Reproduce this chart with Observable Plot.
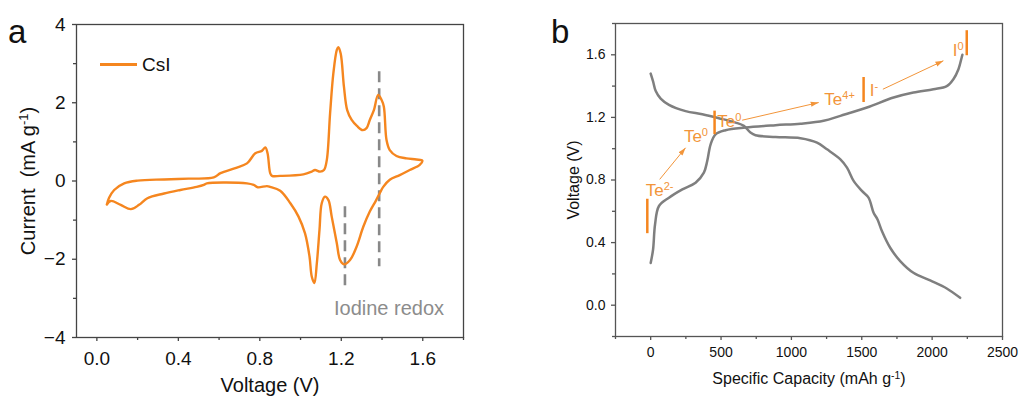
<!DOCTYPE html>
<html><head><meta charset="utf-8">
<script src="https://cdn.jsdelivr.net/npm/d3@7"></script>
<script src="https://cdn.jsdelivr.net/npm/@observablehq/plot@0.6"></script>
<style>
html,body{margin:0;padding:0;background:#fff;}
#wrap{position:relative;width:1019px;height:396px;overflow:hidden;font-family:"Liberation Sans",Arial,sans-serif;}
#wrap svg text{white-space:pre;}
.panel{position:absolute;top:0;}
.plabel{position:absolute;font-size:33px;line-height:33px;color:#111;}
#legLine{position:absolute;left:100px;top:63px;width:37px;height:2.5px;background:#f5861f;}
#legText{position:absolute;left:142px;top:55px;font-size:19px;line-height:19px;color:#111;}
</style></head><body>
<div id="wrap">
  <div id="pa" class="panel" style="left:0"></div>
  <div id="pb" class="panel" style="left:520px"></div>
  <div class="plabel" style="left:8px;top:15px">a</div>
  <div class="plabel" style="left:551px;top:15px">b</div>
  <div id="legLine"></div>
  <div id="legText">CsI</div>
</div>
<script>
// ---------- Panel a: CV curve (CsI) ----------
const cvVoltage = [0.049,0.06,0.085,0.134,0.2,0.33,0.45,0.574,0.607,0.68,0.737,0.778,0.81,0.827,0.838,0.851,0.86,0.90,1.014,1.055,1.071,1.096,1.115,1.129,1.145,1.161,1.178,1.185,1.197,1.213,1.229,1.251,1.278,1.305,1.324,1.34,1.36,1.381,1.398,1.409,1.422,1.438,1.471,1.52,1.569,1.598,
  1.585,1.536,1.487,1.438,1.406,1.39,1.37,1.34,1.308,1.275,1.243,1.213,1.194,1.178,1.153,1.137,1.12,1.104,1.093,1.08,1.068,1.055,1.044,1.022,0.99,0.95,0.90,0.851,0.835,0.79,0.77,0.737,0.54,0.525,0.49,0.41,0.33,0.248,0.207,0.167,0.117,0.068,0.049];
const cvCurrent = [-0.6,-0.43,-0.23,-0.06,0.01,0.04,0.06,0.09,0.2,0.33,0.45,0.71,0.77,0.86,0.71,0.2,0.13,0.13,0.17,0.24,0.28,0.24,0.28,0.54,1.73,2.75,3.35,3.42,3.26,2.41,1.81,1.56,1.40,1.30,1.35,1.56,1.81,2.2,2.07,1.9,1.05,0.79,0.64,0.58,0.55,0.52,
  0.41,0.28,0.15,0.03,-0.15,-0.3,-0.5,-0.78,-1.17,-1.68,-2.02,-2.13,-2.02,-1.59,-0.91,-0.49,-0.4,-0.57,-1.25,-2.1,-2.61,-2.44,-1.93,-1.34,-0.91,-0.57,-0.25,-0.15,-0.13,-0.16,-0.1,-0.06,-0.06,-0.1,-0.15,-0.23,-0.32,-0.44,-0.61,-0.72,-0.61,-0.51,-0.6];
const cvTicksX = [0, 0.4, 0.8, 1.2, 1.6];
const cvMinorX = [0.2, 0.6, 1.0, 1.4, 1.8];
const cvTicksY = [-4, -2, 0, 2, 4];
const cvMinorY = [-3, -1, 1, 3];
const redoxV = [1.386, 1.218];
const redoxTop = [2.79, -0.66];
const redoxBottom = [-2.19, -2.74];
const redoxLabel = ["Iodine redox"];
const redoxLabelV = [1.164];
const redoxLabelI = [-3.42];

// ---------- Panel b: charge / discharge ----------
const dischargeCap = [0,17,35,71,130,248,367,484,603,662,709,745,887,1064,1182,1253,1348,1395,1442,1501,1548,1584,1612,1643,1702,1773,1867,1986,2104,2199];
const dischargeV = [1.48,1.43,1.37,1.32,1.28,1.24,1.22,1.195,1.167,1.146,1.103,1.086,1.075,1.067,1.039,0.996,0.932,0.879,0.794,0.73,0.687,0.591,0.548,0.474,0.367,0.282,0.207,0.158,0.107,0.047];
const chargeCap = [0,17,31,59,130,225,319,378,402,426,461,532,674,887,1064,1229,1348,1537,1726,1867,2009,2104,2151,2187,2210,2215];
const chargeV = [0.27,0.356,0.516,0.634,0.687,0.74,0.783,0.847,0.922,1.028,1.092,1.118,1.135,1.15,1.16,1.178,1.21,1.263,1.327,1.359,1.38,1.40,1.444,1.508,1.583,1.6];
const capTicksX = [0, 500, 1000, 1500, 2000, 2500];
const capMinorX = [-250, 250, 750, 1250, 1750, 2250];
const capTicksY = [0, 0.4, 0.8, 1.2, 1.6];
const capMinorY = [-0.2, 0.2, 0.6, 1.0, 1.4, 1.8];
const ionLabels = ["Te^{2-}", "Te^{0}", "Te^{0}", "Te^{4+}", "I^{-}", "I^{0}"];
const ionLabelCap = [-35, 236, 473, 1234, 1556, 2147];
const ionLabelV = [0.698, 1.043, 1.139, 1.28, 1.338, 1.594];
const barCap = [-24, 454, 1513, 2246];
const barV1 = [0.457, 1.09, 1.295, 1.594];
const barV2 = [0.677, 1.24, 1.455, 1.754];
const arrowCap1 = [64, 650, 1650];
const arrowV1 = [0.804, 1.182, 1.38];
const arrowCap2 = [248, 1194, 2080];
const arrowV2 = [1.006, 1.295, 1.562];

// ---------- helpers ----------
const orange = "#f5861f";
const annOrange = "#f2953a";
const cvData = cvVoltage.map((v, k) => ({v, i: cvCurrent[k]}));
const disData = dischargeCap.map((c, k) => ({c, v: dischargeV[k]}));
const chaData = chargeCap.map((c, k) => ({c, v: chargeV[k]}));
const redoxData = redoxV.map((v, k) => ({v, y1: redoxTop[k], y2: redoxBottom[k]}));
const ionData = ionLabels.map((t, k) => ({t, c: ionLabelCap[k], v: ionLabelV[k]}));
const barData = barCap.map((c, k) => ({c, y1: barV1[k], y2: barV2[k]}));
const arrowData = arrowCap1.map((c, k) => ({x1: c, y1: arrowV1[k], x2: arrowCap2[k], y2: arrowV2[k]}));

function headMarker(color) {
  const m = d3.create("svg:marker")
    .attr("viewBox", "-8 -3 8 6")
    .attr("markerWidth", 8).attr("markerHeight", 6)
    .attr("markerUnits", "userSpaceOnUse")
    .attr("orient", "auto")
    .attr("fill", color).attr("stroke", "none");
  m.append("path").attr("d", "M-8,-2.6L0,0L-8,2.6Z");
  return m.node();
}

function supify(root) {
  root.querySelectorAll("text").forEach(t => {
    if (t.children.length) return;
    const s = t.textContent;
    if (!s.includes("^{")) return;
    t.textContent = "";
    const re = /\^\{([^}]*)\}/g; let last = 0, m;
    while ((m = re.exec(s))) {
      if (m.index > last) t.appendChild(document.createTextNode(s.slice(last, m.index)));
      const sp = document.createElementNS("http://www.w3.org/2000/svg", "tspan");
      sp.setAttribute("baseline-shift", "super");
      sp.setAttribute("font-size", "65%");
      sp.textContent = m[1];
      t.appendChild(sp);
      last = re.lastIndex;
    }
    if (last < s.length) t.appendChild(document.createTextNode(s.slice(last)));
  });
}

const font = '"Liberation Sans", Arial, sans-serif';

const plotA = Plot.plot({
  width: 500, height: 396,
  marginLeft: 76, marginRight: 37, marginTop: 24, marginBottom: 59,
  x: {domain: [-0.1, 1.8]},
  y: {domain: [-4, 4]},
  style: {fontFamily: font, fontSize: "18px", color: "#111", background: "transparent", overflow: "visible"},
  marks: [
    Plot.axisX({ticks: cvTicksX, tickFormat: d3.format(".1f"), tickSize: 4, tickPadding: 10, label: null, stroke: "#444", strokeWidth: 1.3, fontSize: 19}),
    Plot.axisX({ticks: cvMinorX, tickFormat: () => "", tickSize: 3, label: null, stroke: "#444", strokeWidth: 1.3}),
    Plot.axisY({ticks: cvTicksY, tickSize: 4, tickPadding: 7, label: null, stroke: "#444", strokeWidth: 1.3, fontSize: 19}),
    Plot.axisY({ticks: cvMinorY, tickFormat: () => "", tickSize: 3, label: null, stroke: "#444", strokeWidth: 1.3}),
    Plot.frame({stroke: "#444", strokeWidth: 1.3}),
    Plot.ruleX(redoxData, {x: "v", y1: "y1", y2: "y2", stroke: "#888", strokeWidth: 2.6, strokeDasharray: "11,6"}),
    Plot.line(cvData, {x: "v", y: "i", stroke: orange, strokeWidth: 2.4, curve: "catmull-rom"}),
    Plot.text(redoxLabel, {x: redoxLabelV, y: redoxLabelI, text: d => d, textAnchor: "start", lineAnchor: "bottom", fill: "#8c8c8c", fontSize: 20, fontFamily: font}),
    Plot.text(["Voltage (V)"], {text: d => d, frameAnchor: "bottom", dy: 48, textAnchor: "middle", lineAnchor: "middle", fontSize: 20, fill: "#111"}),
    Plot.text(["Current  (mA g^{-1})"], {text: d => d, frameAnchor: "left", dx: -48, rotate: -90, textAnchor: "middle", lineAnchor: "middle", fontSize: 20, fill: "#111"})
  ]
});
supify(plotA);
document.getElementById("pa").appendChild(plotA);

const plotB = Plot.plot({
  width: 499, height: 396,
  marginLeft: 95, marginRight: 17, marginTop: 23, marginBottom: 60,
  x: {domain: [-250, 2500]},
  y: {domain: [-0.2, 1.8]},
  style: {fontFamily: font, fontSize: "14px", color: "#111", background: "transparent", overflow: "visible"},
  marks: [
    Plot.axisX({ticks: capTicksX, tickFormat: d => String(d), tickSize: 4, tickPadding: 7, label: null, stroke: "#555", strokeWidth: 1.3, fontSize: 14}),
    Plot.axisX({ticks: capMinorX, tickFormat: () => "", tickSize: 3, label: null, stroke: "#555", strokeWidth: 1.3}),
    Plot.axisY({ticks: capTicksY, tickFormat: d3.format(".1f"), tickSize: 4, tickPadding: 6, label: null, stroke: "#555", strokeWidth: 1.3, fontSize: 14}),
    Plot.axisY({ticks: capMinorY, tickFormat: () => "", tickSize: 3, label: null, stroke: "#555", strokeWidth: 1.3}),
    Plot.frame({stroke: "#555", strokeWidth: 1.3}),
    Plot.line(disData, {x: "c", y: "v", stroke: "#7f7f7f", strokeWidth: 2.5, curve: "catmull-rom"}),
    Plot.line(chaData, {x: "c", y: "v", stroke: "#7f7f7f", strokeWidth: 2.5, curve: "catmull-rom"}),
    Plot.ruleX(barData, {x: "c", y1: "y1", y2: "y2", stroke: orange, strokeWidth: 2.5}),
    Plot.link(arrowData, {x1: "x1", y1: "y1", x2: "x2", y2: "y2", stroke: annOrange, strokeWidth: 1, markerEnd: headMarker}),
    Plot.text(ionData, {x: "c", y: "v", text: "t", textAnchor: "start", lineAnchor: "bottom", fill: annOrange, fontSize: 17, fontFamily: font}),
    Plot.text(["Specific Capacity (mAh g^{-1})"], {text: d => d, frameAnchor: "bottom", dy: 42, textAnchor: "middle", lineAnchor: "middle", fontSize: 16, fill: "#111"}),
    Plot.text(["Voltage (V)"], {text: d => d, frameAnchor: "left", dx: -42, rotate: -90, textAnchor: "middle", lineAnchor: "middle", fontSize: 16, fill: "#111"})
  ]
});
supify(plotB);
document.getElementById("pb").appendChild(plotB);
</script>
</body></html>
